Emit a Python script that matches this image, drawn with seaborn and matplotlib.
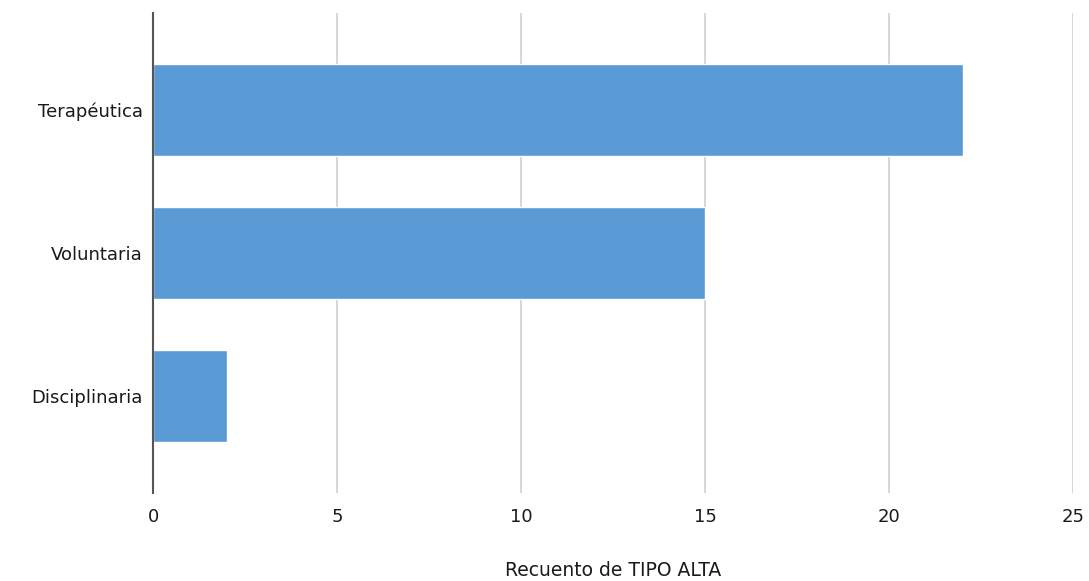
import pandas as pd
import matplotlib
matplotlib.use("Agg")
import matplotlib.pyplot as plt
import seaborn as sns

categorias = ["Terapéutica", "Voluntaria", "Disciplinaria"]
recuento = [22, 15, 2]

data = pd.DataFrame({"TIPO ALTA": categorias, "Recuento": recuento})

sns.set_theme(style="white")
plt.rcParams['font.family'] = ['DejaVu Sans']

fig = plt.figure(figsize=(10.89, 5.81), dpi=100)
ax = fig.add_axes([0.1405, 0.1515, 0.8448, 0.826])

sns.barplot(data=data, y="TIPO ALTA", x="Recuento", orient="h",
            color="#5b9bd5", saturation=1, width=0.64, ax=ax, zorder=3)

ax.set_xlim(0, 25)
ax.set_ylim(2.68, -0.68)
ax.set_xticks([0, 5, 10, 15, 20, 25])
ax.xaxis.grid(True, color="#cccccc", linewidth=1.1, zorder=0)
ax.yaxis.grid(False)
for s in ["top", "right", "bottom"]:
    ax.spines[s].set_visible(False)
ax.spines["left"].set_color("#555555")
ax.spines["left"].set_linewidth(1.5)
ax.spines["left"].set_zorder(4)
ax.tick_params(axis="both", length=0, labelsize=13, colors="#1a1a1a")
ax.tick_params(axis="x", pad=11)
ax.tick_params(axis="y", pad=7.5)
ax.set_ylabel("")
ax.set_xlabel("Recuento de TIPO ALTA", fontsize=13.5, color="#1a1a1a")
ax.xaxis.label.set_va("center")
ax.xaxis.set_label_coords(0.5, -0.1625)

fig.savefig("out.png", dpi=100)
